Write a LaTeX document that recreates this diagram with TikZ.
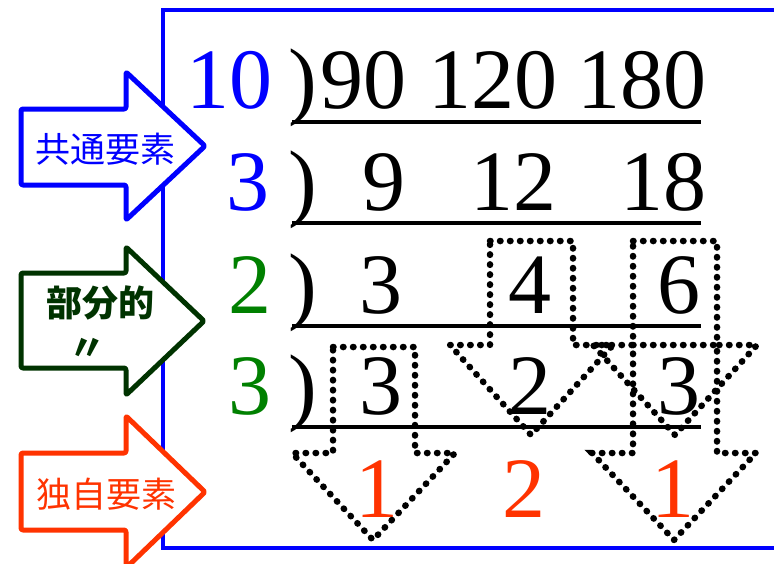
\documentclass[tikz,border=0pt]{standalone}
\usepackage{fontspec}
\setmainfont{Liberation Serif}
\newfontfamily\cjk{Noto Sans CJK JP}
\definecolor{myblue}{HTML}{0000FF}
\definecolor{mygreen}{HTML}{008000}
\definecolor{darkgreen}{HTML}{003300}
\definecolor{myred}{HTML}{FF3300}
\tikzset{
  num/.style={font=\fontsize{86}{86}\selectfont, inner sep=0pt, anchor=base},
  uline/.style={line width=3.2pt, black},
  dotshape/.style={line width=6.5pt, line cap=round, dash pattern=on 0.5pt off 9.5pt},
  bigarrow/.style={line width=5pt, fill=white, rounded corners=2pt, line join=round},
  cjklabel/.style={font=\cjk\fontsize{35}{35}\selectfont, inner sep=0pt},
  cjkbold/.style={font=\cjk\bfseries\fontsize{36}{36}\selectfont, inner sep=0pt},
}
\begin{document}
\begin{tikzpicture}[x=1pt,y=-1pt]
\clip (0,0) rectangle (774,563);
\fill[white] (0,0) rectangle (774,563);
% frame
\draw[myblue, line width=4pt] (800,10) -- (163,10) -- (163,548) -- (800,548);
% row 1
\node[num, myblue] (d1) at (229,108) {10};
\node[num] (p1) at (303,108) {)};
\node[num] (a1) at (363,108) {90};
\node[num] (b1) at (493,108) {120};
\node[num] (c1) at (642,108) {180};
\draw[uline] (292,122) -- (701,122);
% row 2
\node[num, myblue] (d2) at (248,210) {3};
\node[num] (p2) at (303,210) {)};
\node[num] (a2) at (384,210) {9};
\node[num] (b2) at (513,210) {12};
\node[num] (c2) at (663,210) {18};
\draw[uline] (292,223) -- (701,223);
% row 3
\node[num, mygreen] (d3) at (250,313) {2};
\node[num] (p3) at (303,313) {)};
\node[num] (a3) at (381,313) {3};
\node[num] (b3) at (530,313) {4};
\node[num] (c3) at (679,313) {6};
\draw[uline] (292,326) -- (701,326);
% row 4
\node[num, mygreen] (d4) at (250,414) {3};
\node[num] (p4) at (303,414) {)};
\node[num] (a4) at (381,414) {3};
\node[num] (b4) at (530,414) {2};
\node[num] (c4) at (679,414) {3};
\draw[uline] (292,427) -- (701,427);
% row 5
\node[num, myred] (a5) at (377,517) {1};
\node[num, myred] (b5) at (524,517) {2};
\node[num, myred] (c5) at (673,517) {1};
% dotted arrows
\draw[dotshape] (490,241) -- (573,241) -- (573,345) -- (613,345) -- (531,435) -- (450,345) -- (490,345) -- cycle;
\draw[dotshape] (633,241) -- (717,241) -- (717,345) -- (757,345) -- (675,435) -- (593,345) -- (633,345) -- cycle;
\draw[dotshape] (633,345) -- (717,345) -- (717,453) -- (756,453) -- (674,540) -- (592,453) -- (633,453) -- cycle;
\draw[dotshape] (333,347) -- (415,347) -- (415,453) -- (455,453) -- (373,540) -- (292,453) -- (333,453) -- cycle;
% big arrows
\draw[bigarrow, draw=myblue] (21,109) -- (126,109) -- (126,72) -- (205,146) -- (126,220) -- (126,185) -- (21,185) -- cycle;
\draw[bigarrow, draw=darkgreen] (21,273) -- (126,273) -- (126,247) -- (204,321) -- (126,395) -- (126,368) -- (21,368) -- cycle;
\draw[bigarrow, draw=myred] (21,453) -- (126,453) -- (126,416) -- (205,492) -- (126,568) -- (126,530) -- (21,530) -- cycle;
\node[cjklabel, text=myblue] (t1) at (105,149) {共通要素};
\node[cjkbold, text=darkgreen] (t2) at (100,303) {部分的};
\node[cjkbold, text=darkgreen] (t3) at (87,349) {〃};
\node[cjklabel, text=myred] (t4) at (106,494) {独自要素};
\end{tikzpicture}
\end{document}
